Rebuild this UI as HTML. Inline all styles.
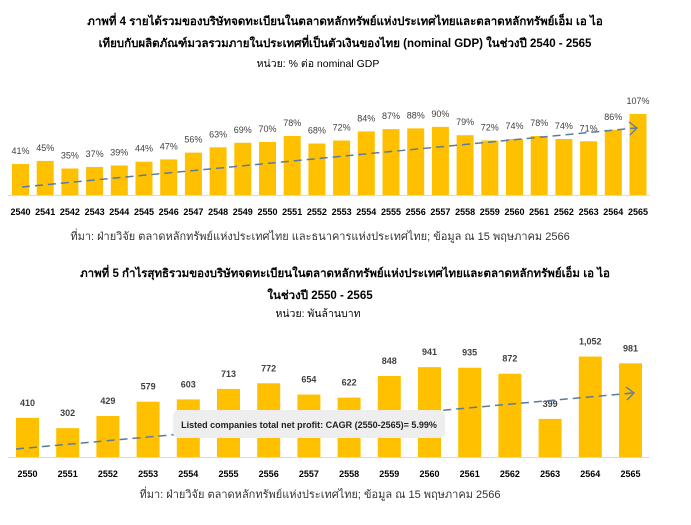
<!DOCTYPE html>
<html><head><meta charset="utf-8"><style>
body{margin:0;background:#fff}
svg text{font-family:"Liberation Sans","DejaVu Sans",sans-serif}
</style></head><body>
<svg width="691" height="520" xmlns="http://www.w3.org/2000/svg">
<g text-anchor="middle" fill="#000">
<text x="345" y="25" font-size="11.5" font-weight="bold">ภาพที่ 4 รายได้รวมของบริษัทจดทะเบียนในตลาดหลักทรัพย์แห่งประเทศไทยและตลาดหลักทรัพย์เอ็ม เอ ไอ</text>
<text x="345" y="47" font-size="11.5" font-weight="bold">เทียบกับผลิตภัณฑ์มวลรวมภายในประเทศที่เป็นตัวเงินของไทย (nominal GDP) ในช่วงปี 2540 - 2565</text>
<text x="318" y="67" font-size="10.5">หน่วย: % ต่อ nominal GDP</text>
<text x="320" y="240" font-size="11" fill="#333">ที่มา: ฝ่ายวิจัย ตลาดหลักทรัพย์แห่งประเทศไทย และธนาคารแห่งประเทศไทย; ข้อมูล ณ 15 พฤษภาคม 2566</text>
<text x="345" y="277" font-size="11.5" font-weight="bold">ภาพที่ 5 กำไรสุทธิรวมของบริษัทจดทะเบียนในตลาดหลักทรัพย์แห่งประเทศไทยและตลาดหลักทรัพย์เอ็ม เอ ไอ</text>
<text x="320" y="299" font-size="11.5" font-weight="bold">ในช่วงปี 2550 - 2565</text>
<text x="318" y="317" font-size="10.5">หน่วย: พันล้านบาท</text>
<text x="320" y="498" font-size="11" fill="#333">ที่มา: ฝ่ายวิจัย ตลาดหลักทรัพย์แห่งประเทศไทย; ข้อมูล ณ 15 พฤษภาคม 2566</text>
</g>
<line x1="8" y1="195.5" x2="650" y2="195.5" stroke="#d9d9d9"/>
<line x1="8" y1="457.5" x2="650" y2="457.5" stroke="#d9d9d9"/>
<g id="gtop"></g>
<g id="gbot"></g>
<line x1="22" y1="187" x2="636" y2="128" stroke="#5b7ba0" stroke-width="1.5" stroke-dasharray="8,5"/>
<polyline points="629,122 637,128 630,135" fill="none" stroke="#5b7ba0" stroke-width="1.3"/>
<line x1="16" y1="449" x2="633" y2="393" stroke="#5b7ba0" stroke-width="1.5" stroke-dasharray="8,5"/>
<polyline points="626,387 634,393 627,400" fill="none" stroke="#5b7ba0" stroke-width="1.3"/>
<rect x="173" y="410" width="272" height="28" rx="6" fill="#eeeeee"/>
<text x="309" y="428" font-size="9" font-weight="bold" text-anchor="middle" fill="#222">Listed companies total net profit: CAGR (2550-2565)= 5.99%</text>
</svg>
<script>
var ns="http://www.w3.org/2000/svg";
function el(p,t,a,tx){var e=document.createElementNS(ns,t);for(var k in a)e.setAttribute(k,a[k]);if(tx)e.textContent=tx;p.appendChild(e);}
var gTop=document.getElementById("gtop"),gBot=document.getElementById("gbot");
var v1=[41,45,35,37,39,44,47,56,63,69,70,78,68,72,84,87,88,90,79,72,74,78,74,71,86,107];
v1.forEach(function(v,i){var x=12+i*24.7,h=v*0.757,y=195-h;
el(gTop,"rect",{x:x,y:y,width:17,height:h,fill:"#ffc000"});
el(gTop,"text",{x:x+8.5,y:y-10,"font-size":"9","text-anchor":"middle",fill:"#404040"},v+"%");
el(gTop,"text",{x:x+8.5,y:215,"font-size":"9","font-weight":"bold","text-anchor":"middle"},String(2540+i));});
var v2=[410,302,429,579,603,713,772,654,622,848,941,935,872,399,1052,981];
v2.forEach(function(v,i){var x=16+i*40.2,h=v*0.0955,y=457-h;
el(gBot,"rect",{x:x,y:y,width:23,height:h,fill:"#ffc000"});
el(gBot,"text",{x:x+11.5,y:y-12,"font-size":"9","font-weight":"bold","text-anchor":"middle",fill:"#404040"},v>=1000?"1,052":String(v));
el(gBot,"text",{x:x+11.5,y:477,"font-size":"9","font-weight":"bold","text-anchor":"middle"},String(2550+i));});
</script>
</body></html>
